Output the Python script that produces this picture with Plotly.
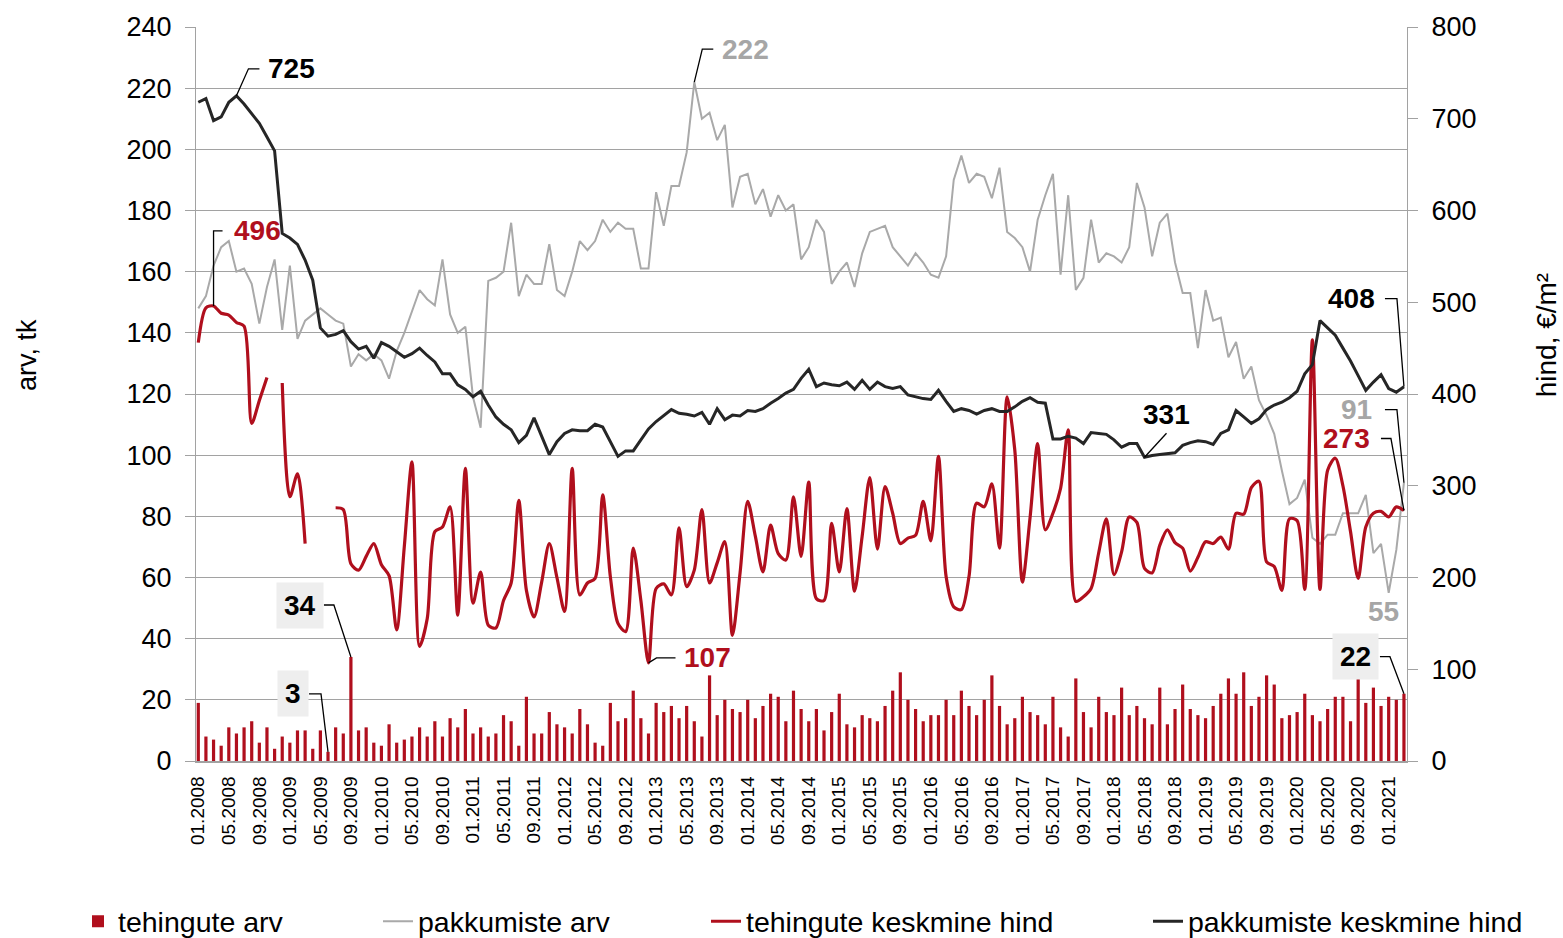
import plotly.graph_objects as go

months = list(range(159))

tick_pos = list(range(0, 157, 4))
tick_labels = ["01.2008", "05.2008", "09.2008", "01.2009", "05.2009", "09.2009",
               "01.2010", "05.2010", "09.2010", "01.2011", "05.2011", "09.2011",
               "01.2012", "05.2012", "09.2012", "01.2013", "05.2013", "09.2013",
               "01.2014", "05.2014", "09.2014", "01.2015", "05.2015", "09.2015",
               "01.2016", "05.2016", "09.2016", "01.2017", "05.2017", "09.2017",
               "01.2018", "05.2018", "09.2018", "01.2019", "05.2019", "09.2019",
               "01.2020", "05.2020", "09.2020", "01.2021"]

tehingute_arv = [
    19, 8, 7, 5, 11, 9, 11, 13, 6, 11,
    4, 8, 6, 10, 10, 4, 10, 3, 11, 9,
    34, 10, 11, 6, 5, 12, 6, 7, 8, 11,
    8, 13, 8, 14, 11, 17, 9, 11, 8, 9,
    15, 13, 5, 21, 9, 9, 16, 12, 11, 9,
    17, 12, 6, 5, 19, 13, 14, 23, 14, 9,
    19, 16, 18, 14, 18, 13, 8, 28, 15, 20,
    17, 16, 20, 14, 18, 22, 21, 13, 23, 17,
    13, 17, 10, 16, 22, 12, 11, 15, 14, 13,
    18, 23, 29, 20, 17, 13, 15, 15, 20, 15,
    23, 18, 15, 20, 28, 18, 12, 14, 21, 16,
    15, 12, 21, 11, 8, 27, 16, 11, 21, 16,
    15, 24, 15, 18, 14, 12, 24, 12, 17, 25,
    17, 15, 14, 18, 22, 27, 22, 29, 18, 21,
    28, 25, 14, 15, 16, 22, 15, 13, 17, 21,
    21, 13, 27, 19, 24, 18, 21, 20, 22]

pakkumiste_arv = [
    148, 152, 162, 168, 170, 160, 161, 156, 143, 155,
    164, 141, 162, 138, 144, 146, 148, 146, 144, 143,
    129, 133, 131, 133, 131, 125, 134, 140, 147, 154,
    151, 149, 164, 146, 140, 142, 119, 109, 157, 158,
    160, 176, 152, 159, 156, 156, 169, 154, 152, 160,
    170, 167, 170, 177, 173, 176, 174, 174, 161, 161,
    186, 175, 188, 188, 199, 222, 210, 212, 203, 208,
    181, 191, 192, 182, 187, 178, 185, 180, 182, 164,
    168, 177, 173, 156, 160, 163, 155, 166, 173, 174,
    175, 168, 165, 162, 166, 163, 159, 158, 165, 190,
    198, 189, 192, 191, 184, 194, 173, 171, 168, 160,
    177, 185, 192, 159, 185, 154, 158, 177, 163, 166,
    165, 163, 168, 189, 181, 165, 176, 179, 163, 153,
    153, 135, 154, 144, 145, 132, 137, 125, 129, 118,
    113, 107, 95, 84, 86, 92, 73, 71, 74, 74,
    81, 81, 81, 87, 68, 71, 55, 69, 91]

tehingute_hind = [
    456, 494, 496, 488, 486, 478, 474, 368, 393, 418,
    None, 412, 288, 313, 237, None, None, None, 276, 274,
    215, 208, 223, 237, 214, 202, 143, 234, 326, 125,
    155, 250, 255, 277, 159, 319, 172, 206, 148, 145,
    175, 194, 284, 186, 157, 195, 237, 200, 163, 319,
    181, 194, 199, 290, 201, 150, 141, 232, 175, 107,
    188, 193, 181, 254, 190, 208, 274, 194, 216, 239,
    137, 205, 283, 245, 206, 257, 226, 219, 288, 223,
    304, 177, 175, 259, 206, 275, 185, 245, 309, 231,
    299, 270, 237, 243, 246, 283, 240, 332, 201, 168,
    165, 201, 281, 277, 302, 232, 397, 339, 195, 265,
    346, 252, 270, 297, 361, 174, 179, 188, 227, 264,
    203, 228, 266, 260, 210, 205, 235, 252, 238, 232,
    207, 222, 239, 237, 244, 231, 270, 269, 298, 305,
    217, 212, 186, 264, 262, 187, 459, 187, 317, 330,
    300, 250, 199, 255, 270, 272, 266, 277, 273]

pakkumiste_hind = [
    718, 722, 698, 702, 718, 725, 716, 706, 695, 680,
    665, 575, 570, 563, 546, 524, 472, 463, 465, 469,
    457, 449, 452, 439, 456, 452, 446, 440, 444, 450,
    442, 435, 422, 422, 410, 405, 397, 403, 388, 375,
    367, 361, 347, 355, 374, 355, 334, 348, 357, 361,
    360, 360, 367, 364, 348, 332, 338, 338, 350, 362,
    370, 377, 383, 379, 378, 376, 380, 367, 384, 372,
    377, 376, 382, 381, 384, 390, 395, 401, 405, 417,
    427, 408, 412, 410, 409, 413, 405, 415, 405, 413,
    408, 406, 408, 399, 397, 395, 394, 404, 392, 381,
    384, 382, 378, 382, 384, 381, 381, 386, 392, 396,
    391, 390, 351, 351, 354, 352, 346, 358, 357, 356,
    350, 342, 346, 346, 331, 333, 334, 335, 336, 344,
    347, 349, 348, 345, 357, 361, 382, 375, 368, 373,
    383, 388, 391, 396, 403, 422, 432, 480, 472, 464,
    450, 436, 420, 404, 413, 421, 406, 402, 408]

RED = "#b00f1d"
GREY = "#a9a9a9"
BLACK = "#262626"
GRID = "#a2a2a2"
FONT = "Liberation Sans, Arial, sans-serif"

fig = go.Figure()
fig.add_trace(go.Bar(x=months, y=tehingute_arv, name="tehingute arv",
                     marker=dict(color=RED, line=dict(width=0)), width=0.42,
                     yaxis="y", legend="legend", showlegend=True))
fig.add_trace(go.Scatter(x=months, y=pakkumiste_arv, name="pakkumiste arv",
                         mode="lines", line=dict(color=GREY, width=2),
                         yaxis="y", legend="legend2", showlegend=True))
fig.add_trace(go.Scatter(x=months, y=tehingute_hind, name="tehingute keskmine hind",
                         mode="lines", line=dict(color=RED, width=3.2, shape="spline", smoothing=0.8),
                         connectgaps=False, yaxis="y2", legend="legend3", showlegend=True))
fig.add_trace(go.Scatter(x=months, y=pakkumiste_hind, name="pakkumiste keskmine hind",
                         mode="lines", line=dict(color=BLACK, width=3),
                         yaxis="y2", legend="legend4", showlegend=True))

# callouts: (index, series, axis, color, boxed, leader path in px, text shift, anchor)
callouts = [
    (5, pakkumiste_hind, "y2", "#000000", False, "M0,0 L12,27 L23,27", 30, 27, "left"),
    (2, tehingute_hind, "y2", RED, False, "M0,0 L0,75 L9,75", 18, 75, "left"),
    (65, pakkumiste_arv, "y", "#a6a6a6", False, "M0,0 L8,33 L19,33", 26, 33, "left"),
    (20, tehingute_arv, "y", "#000000", True, "M0,0 L-17,52 L-27,52", -27, 52, "right"),
    (17, tehingute_arv, "y", "#000000", True, "M0,0 L-7,58 L-19,58", -19, 58, "right"),
    (59, tehingute_hind, "y2", RED, False, "M0,0 L8,5 L27,5", 33, 5, "left"),
    (124, pakkumiste_hind, "y2", "#000000", False, "M0,0 L22,24", 22, 43, "center"),
    (158, pakkumiste_hind, "y2", "#000000", False, "M0,0 L-7,88 L-19,88", -27, 88, "right"),
    (158, pakkumiste_arv, "y", "#a6a6a6", False, "M0,0 L-7,73 L-19,73", -30, 73, "right"),
    (158, tehingute_hind, "y2", RED, False, "M0,0 L-13,72 L-23,72", -32, 72, "right"),
    (156, pakkumiste_arv, "y", "#a6a6a6", False, None, -5, -19, "center"),
    (158, tehingute_arv, "y", "#000000", True, "M0,0 L-14,37 L-24,37", -25, 37, "right"),
]

shapes = []
annotations = []
for idx, series, ax, color, boxed, path, xs, ys, anchor in callouts:
    val = series[idx]
    if path:
        shapes.append(dict(type="path", xref="x", yref=ax, xsizemode="pixel", ysizemode="pixel",
                           xanchor=idx, yanchor=val, path=path,
                           line=dict(color="#000000", width=1.3)))
    ann = dict(x=idx, y=val, xref="x", yref=ax, text="<b>%d</b>" % val, showarrow=False,
               xanchor=anchor, yanchor="middle", xshift=xs, yshift=ys,
               font=dict(size=28, color=color, family=FONT))
    if boxed:
        ann.update(bgcolor="#eeeeee", borderpad=7)
    annotations.append(ann)

annotations.append(dict(text="arv, tk", xref="paper", yref="paper", x=-0.1396, y=0.553,
                        showarrow=False, textangle=-90, xanchor="center", yanchor="middle",
                        font=dict(size=27, color="#000000", family=FONT)))
annotations.append(dict(text="hind, €/m²", xref="paper", yref="paper", x=1.1148, y=0.580,
                        showarrow=False, textangle=-90, xanchor="center", yanchor="middle",
                        font=dict(size=28, color="#000000", family=FONT)))

leg_common = dict(orientation="h", yanchor="middle", y=-0.219, xanchor="left",
                  font=dict(size=28.5, color="#000000", family=FONT),
                  bgcolor="rgba(0,0,0,0)", borderwidth=0, visible=True)

fig.update_layout(
    width=1563, height=938,
    showlegend=True,
    margin=dict(l=196, r=156, t=27, b=177, autoexpand=False),
    paper_bgcolor="white", plot_bgcolor="white",
    font=dict(family=FONT, color="#000000"),
    bargap=0.5,
    xaxis=dict(range=[-0.3, 158.4], tickmode="array", tickvals=tick_pos, ticktext=tick_labels,
               tickangle=-90, tickfont=dict(size=19), showgrid=False, zeroline=False,
               showline=True, linecolor=GRID, linewidth=1.5, ticks="", ticklabelstandoff=6),
    yaxis=dict(range=[0, 240], dtick=20, showgrid=True, gridcolor=GRID, gridwidth=1.3,
               zeroline=False, showline=True, linecolor=GRID, linewidth=1.3,
               ticks="outside", ticklen=10, tickcolor=GRID, tickwidth=1.3,
               tickfont=dict(size=27), ticklabelstandoff=8),
    yaxis2=dict(range=[0, 800], dtick=100, overlaying="y", side="right", showgrid=False,
                zeroline=False, showline=True, linecolor=GRID, linewidth=1.3,
                ticks="outside", ticklen=10, tickcolor=GRID, tickwidth=1.3,
                tickfont=dict(size=27), ticklabelstandoff=8),
    legend=dict(leg_common, x=(78 - 196) / 1211),
    legend2=dict(leg_common, x=(378 - 196) / 1211),
    legend3=dict(leg_common, x=(706 - 196) / 1211),
    legend4=dict(leg_common, x=(1148 - 196) / 1211),
    shapes=shapes,
    annotations=annotations,
)

fig.write_html("out.html", config={"displayModeBar": False},
               post_script="document.body.style.margin='0px';document.body.style.overflow='hidden';")
